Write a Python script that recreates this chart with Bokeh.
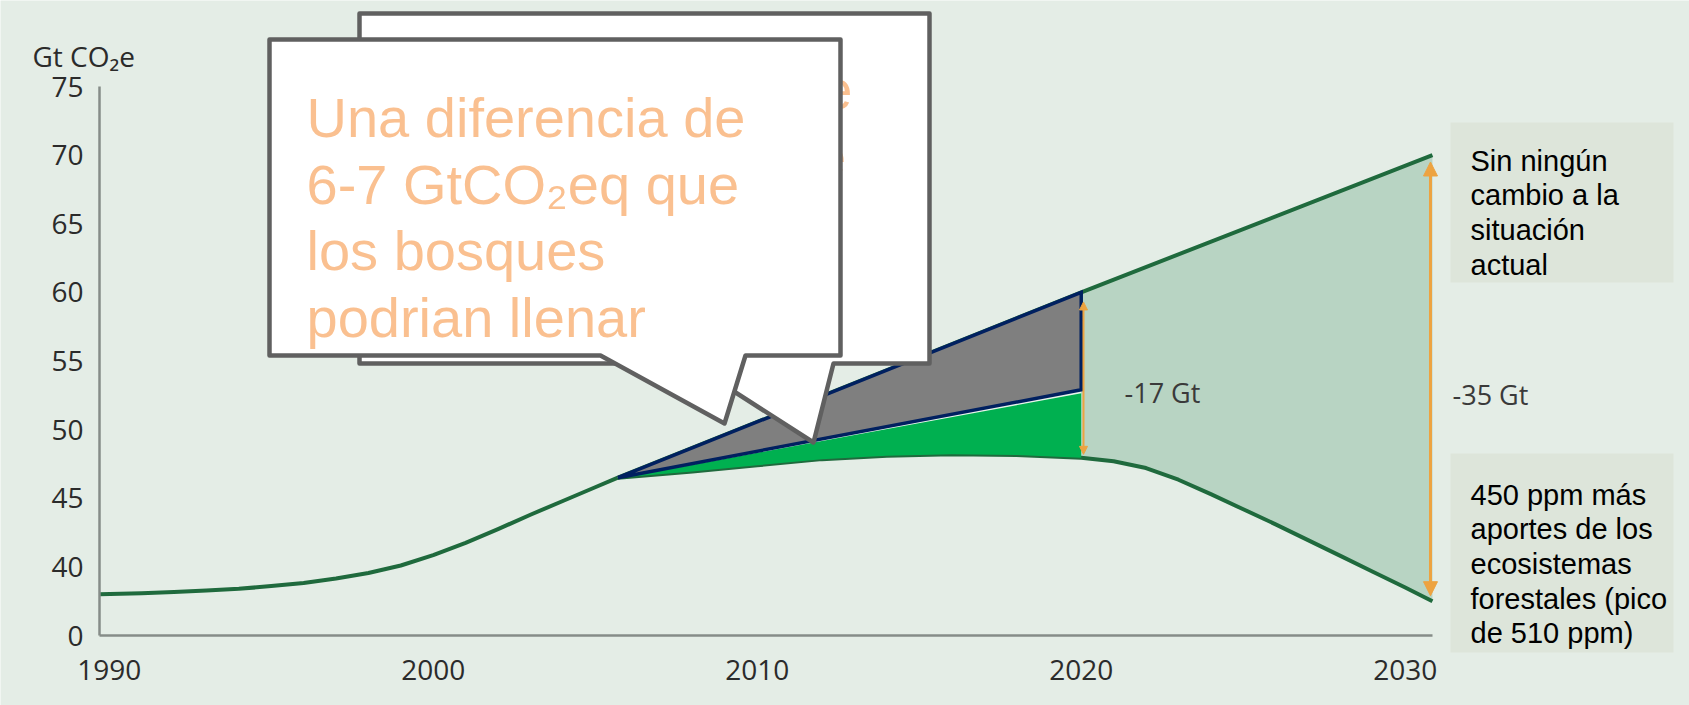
from bokeh.plotting import figure
from bokeh.models import Range1d, FixedTicker, Label, Arrow, NormalHead
from bokeh.core.properties import value
from bokeh.embed import file_html
from bokeh.resources import INLINE

# ---------------- data ----------------
years_hist = [1989.7, 1991, 1992, 1993, 1994, 1995, 1996, 1997, 1998, 1999,
              2000, 2001, 2002, 2003, 2004, 2005, 2005.7]
emis_hist = [38.0, 38.08, 38.17, 38.28, 38.4, 38.6, 38.82, 39.15, 39.55, 40.1,
             40.85, 41.75, 42.75, 43.8, 44.8, 45.8, 46.5]

years_bau = [2005.7, 2020, 2030.84]
emis_bau = [46.5, 60.0, 70.0]

years_low = [2005.7, 2008, 2010, 2012, 2014, 2016, 2018, 2020,
             2021, 2022, 2023, 2024, 2025, 2026, 2027, 2028, 2029, 2030, 2030.84]
emis_low = [46.5, 46.95, 47.4, 47.85, 48.1, 48.2, 48.15, 47.95,
            47.7, 47.2, 46.35, 45.3, 44.2, 43.1, 41.95, 40.8, 39.65, 38.5, 37.5]

years_forest = [2005.7, 2020]
emis_forest_gray_low = [46.5, 52.9]
emis_forest_green_top = [46.5, 52.7]

x_ticks = [1990, 2000, 2010, 2020, 2030]
y_ticks = [35, 40, 45, 50, 55, 60, 65, 70, 75]
y_tick_overrides = {35: "0"}
y_unit = "Gt CO\u2082e"

label_17 = "-17 Gt"
label_35 = "-35 Gt"
bubble_lines = ["Una diferencia de", "6-7 GtCO\u2082eq que", "los bosques", "podrian llenar"]
bau_lines = ["Sin ning\u00fan", "cambio a la", "situaci\u00f3n", "actual"]
low_lines = ["450 ppm m\u00e1s", "aportes de los", "ecosistemas", "forestales (pico", "de 510 ppm)"]

# ---------------- layout ----------------
BG = "#e4ede6"
DARK = "#1f6a3d"
LIGHT_FILL = "#b8d4c3"
ORANGE = "#eda341"
NAVY = "#002060"
GRAY = "#7f7f7f"
GREEN = "#00b050"
PEACH = "#fac090"
BOX = "#dde5da"
OUTLINE = "#606060"

W, H = 1689, 705
X0, PXX = 1989.7, 32.4      # data x at the y axis (px 99), px per year
PXY = 13.725                # px per unit; value 35 sits at px 635


def fx(px):  # pixel -> data x
    return X0 + (px - 99) / PXX


def fy(py):  # pixel -> data y
    return 35 + (635 - py) / PXY


p = figure(width=W, height=H, output_backend="svg", toolbar_location=None,
           x_range=Range1d(fx(0), fx(W)), y_range=Range1d(fy(H), fy(0)),
           min_border=0, min_border_left=0, min_border_right=0,
           min_border_top=0, min_border_bottom=0)
p.background_fill_color = BG
p.border_fill_color = BG
p.outline_line_color = None
p.xgrid.visible = False
p.ygrid.visible = False

for ax in (p.xaxis, p.yaxis):
    ax.major_tick_in = 0
    ax.major_tick_out = 0
    ax.minor_tick_line_color = None
    ax.major_tick_line_color = None
    ax.axis_line_color = "#868c88"
    ax.axis_line_width = 2.5
    ax.major_label_text_font = "Open Sans"
    ax.major_label_text_font_size = "28px"
    ax.major_label_text_color = "#2b2b2b"

p.xaxis.fixed_location = y_ticks[0]
p.xaxis.ticker = FixedTicker(ticks=x_ticks)
p.xaxis.bounds = (X0, years_bau[-1])
p.xaxis.major_label_standoff = 24
p.yaxis.fixed_location = X0
p.yaxis.ticker = FixedTicker(ticks=y_ticks)
p.yaxis.major_label_overrides = y_tick_overrides
p.yaxis.bounds = (y_ticks[0], y_ticks[-1])
p.yaxis.major_label_standoff = 16

# light fill between scenarios after 2020
i20 = years_low.index(2020)
fill_x = years_bau[1:] + years_low[i20:][::-1]
fill_y = emis_bau[1:] + emis_low[i20:][::-1]
p.patch(fill_x, fill_y, fill_color=LIGHT_FILL, line_color=None)

# lines
p.line(years_hist, emis_hist, line_color=DARK, line_width=4, line_join="round")
p.line(years_bau, emis_bau, line_color=DARK, line_width=4)
p.line(years_low, emis_low, line_color=DARK, line_width=4, line_join="round")

# green wedge
gx = years_forest + years_low[:i20 + 1][::-1]
gy = emis_forest_green_top + emis_low[:i20 + 1][::-1]
p.patch(gx, gy, fill_color=GREEN, line_color=None)
p.line(years_forest, emis_forest_green_top, line_color="#e8f4ea", line_width=1.5)

# gray wedge
tx = [years_bau[0], years_bau[1], years_forest[1]]
ty = [emis_bau[0], emis_bau[1], emis_forest_gray_low[1]]
p.patch(tx, ty, fill_color=GRAY, line_color=NAVY, line_width=3.5, line_join="miter")

# arrows
p.add_layout(Arrow(x_start=years_low[i20] + 0.07, y_start=emis_low[i20] + 0.25,
                   x_end=years_bau[1] + 0.07, y_end=emis_bau[1] - 0.7,
                   line_color=ORANGE, line_width=2,
                   start=NormalHead(size=8, fill_color=ORANGE, line_color=ORANGE),
                   end=NormalHead(size=8, fill_color=ORANGE, line_color=ORANGE)))
p.add_layout(Arrow(x_start=years_low[-1] - 0.06, y_start=emis_low[-1] + 0.4,
                   x_end=years_bau[-1] - 0.06, y_end=emis_bau[-1] - 0.5,
                   line_color=ORANGE, line_width=3,
                   start=NormalHead(size=14, fill_color=ORANGE, line_color=ORANGE),
                   end=NormalHead(size=14, fill_color=ORANGE, line_color=ORANGE)))

p.text([fx(1124)], [fy(392)], text=[label_17], text_font=value("Open Sans"),
       text_font_size="27px", text_color="#3a3a3a", text_baseline="middle")
p.text([fx(1452)], [fy(394)], text=[label_35], text_font=value("Open Sans"),
       text_font_size="27px", text_color="#3a3a3a", text_baseline="middle")

# callout bubbles
back = [(359, 13), (929, 13), (929, 363), (833, 363), (813, 442), (690, 363), (359, 363)]
front = [(269, 39), (840, 39), (840, 355), (745, 355), (724, 423), (600, 355), (269, 355)]


def bubble(pts, tx0, base0):
    p.patch([fx(a) for a, b in pts], [fy(b) for a, b in pts], fill_color="white",
            line_color=OUTLINE, line_width=4.5, line_join="round")
    p.text([fx(tx0)] * len(bubble_lines),
           [fy(base0 + 66.7 * k) for k in range(len(bubble_lines))],
           text=bubble_lines, text_font=value("Liberation Sans"),
           text_font_size="56px", text_color=PEACH, text_baseline="alphabetic")


bubble(back, 413, 89)
bubble(front, 306, 117)

# right-hand notes
p.quad(left=fx(1450), right=fx(1673), top=fy(122), bottom=fy(282),
       fill_color=BOX, line_color=None)
p.quad(left=fx(1450), right=fx(1673), top=fy(453), bottom=fy(652),
       fill_color=BOX, line_color=None)
p.text([fx(1470)] * len(bau_lines), [fy(160 + 34.7 * k) for k in range(len(bau_lines))],
       text=bau_lines, text_font=value("Liberation Sans"), text_font_size="29px",
       text_color="black", text_baseline="alphabetic")
p.text([fx(1470)] * len(low_lines), [fy(494 + 34.7 * k) for k in range(len(low_lines))],
       text=low_lines, text_font=value("Liberation Sans"), text_font_size="29px",
       text_color="black", text_baseline="alphabetic")

# unit label
p.add_layout(Label(x=fx(32), y=fy(55), text=y_unit, text_font="Open Sans",
                   text_font_size="28px", text_color="#2b2b2b",
                   text_baseline="alphabetic"))

open("out.html", "w").write(file_html(p, INLINE))
